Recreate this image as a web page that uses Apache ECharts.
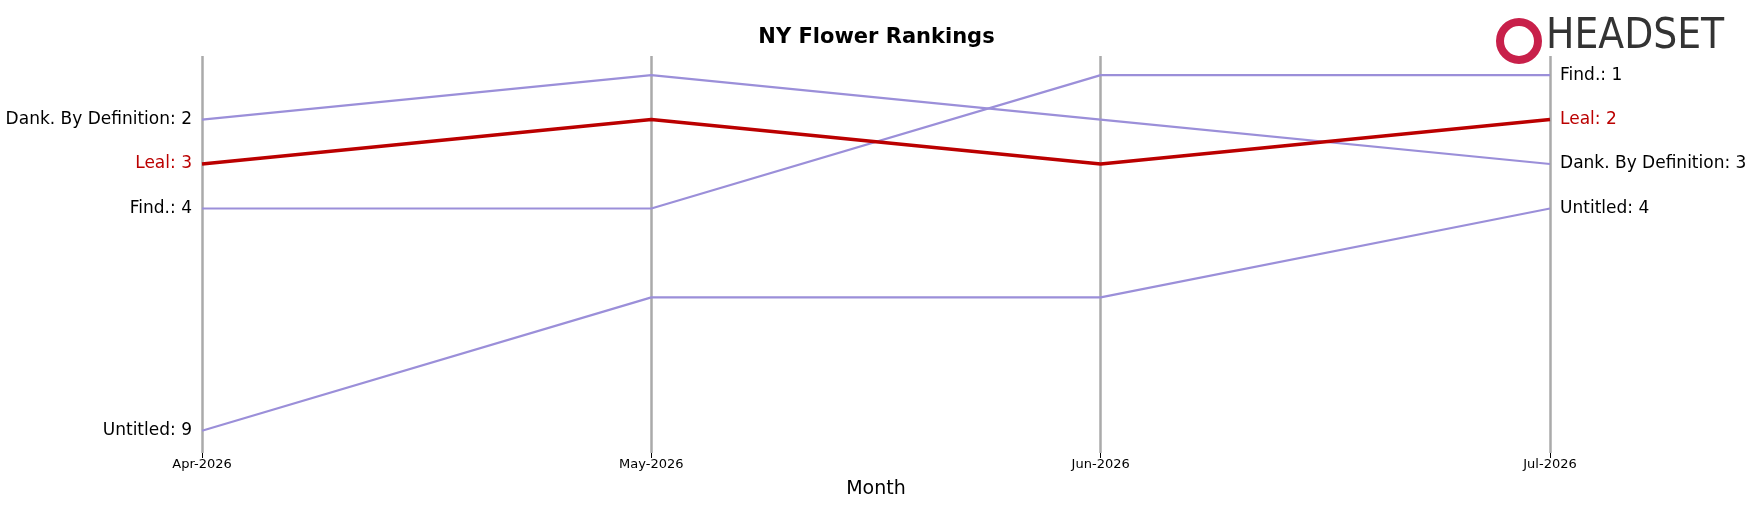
<!DOCTYPE html>
<html><head><meta charset="utf-8">
<script src="https://cdn.jsdelivr.net/npm/echarts@6/dist/echarts.min.js"></script>
<style>html,body{margin:0;background:#fff}#c{width:1753px;height:507px}</style>
</head><body><div id="c"></div>
<script>
// data
var months = ['Apr-2026', 'May-2026', 'Jun-2026', 'Jul-2026'];
var brands = ['Dank. By Definition', 'Leal', 'Find.', 'Untitled'];
var dankRanks = [2, 1, 2, 3];
var lealRanks = [3, 2, 3, 2];
var findRanks = [4, 4, 1, 1];
var untitledRanks = [9, 6, 6, 4];

var ranks = [dankRanks, lealRanks, findRanks, untitledRanks];
var series = brands.map(function (name, i) {
    var hi = name === 'Leal';
    var color = hi ? '#bb0000' : '#9b8fd9';
    var vals = ranks[i];
    return {
        name: name,
        type: 'line',
        symbol: 'circle',
        symbolSize: 0.1,
        showSymbol: true,
        z: hi ? 5 : 2,
        lineStyle: { color: color, width: hi ? 3.5 : 2.2 },
        itemStyle: { color: color },
        data: vals.map(function (v, j) {
            var d = { value: v };
            if (j === 0 || j === vals.length - 1) {
                d.label = {
                    show: true,
                    position: j === 0 ? 'left' : 'right',
                    distance: 10,
                    formatter: name + ': ' + v,
                    color: hi ? '#bb0000' : '#000',
                    fontSize: 17,
                    fontFamily: 'DejaVu Sans'
                };
            }
            return d;
        })
    };
});

var option = {
    animation: false,
    title: {
        text: 'NY Flower Rankings',
        left: 'center',
        top: 22,
        textStyle: { fontSize: 21, fontWeight: 'bold', fontFamily: 'DejaVu Sans', color: '#000' }
    },
    graphic: [{
        type: 'text', left: 1546, top: 16,
        style: { text: 'HEADSET', fontSize: 42, fontFamily: 'DejaVu Sans Condensed', fill: '#333' }
    }, {
        type: 'circle', left: 1496, top: 18, shape: { r: 19 },
        style: { fill: 'none', stroke: '#c8204a', lineWidth: 8 }
    }],
    grid: { left: 202, right: 203, top: 56, bottom: 54 },
    xAxis: {
        type: 'category',
        data: months,
        boundaryGap: false,
        name: 'Month',
        nameLocation: 'middle',
        nameGap: 27,
        nameTextStyle: { fontSize: 19, fontFamily: 'DejaVu Sans', color: '#000' },
        axisLine: { show: false },
        axisTick: { show: true, lineStyle: { color: '#000' } },
        axisLabel: { fontSize: 13, margin: 5, fontFamily: 'DejaVu Sans', color: '#000' },
        splitLine: { show: true, lineStyle: { color: '#aaa', width: 2.5 } }
    },
    yAxis: {
        type: 'value',
        inverse: true,
        min: 0.57,
        max: 9.5,
        show: false
    },
    series: series
};
echarts.init(document.getElementById('c')).setOption(option);
</script>
</body></html>
